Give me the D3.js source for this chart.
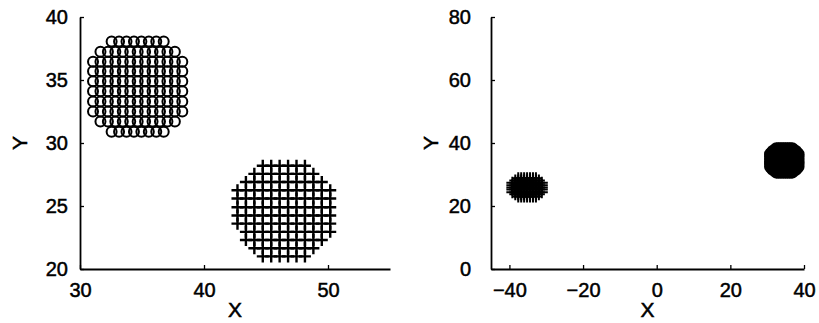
<!DOCTYPE html>
<html>
<head>
<meta charset="utf-8">
<script src="https://cdn.jsdelivr.net/npm/d3@7"></script>
<style>
  body { margin: 0; background: #fff; }
  text { font-family: "Liberation Sans", Arial, Helvetica, sans-serif; fill: #000; }
</style>
</head>
<body>
<script>
// circle cluster (same points in both panels): [y, [x...]]
const circleRows = [
  [38.05, [32.55, 33.15, 33.75, 34.35, 34.95, 35.55, 36.15, 36.75]],
  [37.25, [31.65, 32.25, 32.85, 33.45, 34.05, 34.65, 35.25, 35.85, 36.45, 37.05, 37.65]],
  [36.45, [31.05, 31.65, 32.25, 32.85, 33.45, 34.05, 34.65, 35.25, 35.85, 36.45, 37.05, 37.65, 38.25]],
  [35.7,  [31.05, 31.65, 32.25, 32.85, 33.45, 34.05, 34.65, 35.25, 35.85, 36.45, 37.05, 37.65, 38.25]],
  [34.9,  [31.05, 31.65, 32.25, 32.85, 33.45, 34.05, 34.65, 35.25, 35.85, 36.45, 37.05, 37.65, 38.25]],
  [34.1,  [31.05, 31.65, 32.25, 32.85, 33.45, 34.05, 34.65, 35.25, 35.85, 36.45, 37.05, 37.65, 38.25]],
  [33.3,  [31.05, 31.65, 32.25, 32.85, 33.45, 34.05, 34.65, 35.25, 35.85, 36.45, 37.05, 37.65, 38.25]],
  [32.5,  [31.05, 31.65, 32.25, 32.85, 33.45, 34.05, 34.65, 35.25, 35.85, 36.45, 37.05, 37.65, 38.25]],
  [31.7,  [31.65, 32.25, 32.85, 33.45, 34.05, 34.65, 35.25, 35.85, 36.45, 37.05, 37.65]],
  [30.9,  [32.55, 33.15, 33.75, 34.35, 34.95, 35.55, 36.15, 36.75]]
];

// cross cluster, left panel
const crossRowsLeft = [
  [28.2,  [44.74, 45.42, 46.1, 46.78, 47.46, 48.14]],
  [27.55, [44.06, 44.74, 45.42, 46.1, 46.78, 47.46, 48.14, 48.82]],
  [26.9,  [43.38, 44.06, 44.74, 45.42, 46.1, 46.78, 47.46, 48.14, 48.82, 49.5]],
  [26.25, [42.7, 43.38, 44.06, 44.74, 45.42, 46.1, 46.78, 47.46, 48.14, 48.82, 49.5, 50.18]],
  [25.6,  [42.7, 43.38, 44.06, 44.74, 45.42, 46.1, 46.78, 47.46, 48.14, 48.82, 49.5, 50.18]],
  [24.9,  [42.7, 43.38, 44.06, 44.74, 45.42, 46.1, 46.78, 47.46, 48.14, 48.82, 49.5, 50.18]],
  [24.25, [42.7, 43.38, 44.06, 44.74, 45.42, 46.1, 46.78, 47.46, 48.14, 48.82, 49.5, 50.18]],
  [23.6,  [42.7, 43.38, 44.06, 44.74, 45.42, 46.1, 46.78, 47.46, 48.14, 48.82, 49.5, 50.18]],
  [22.95, [43.38, 44.06, 44.74, 45.42, 46.1, 46.78, 47.46, 48.14, 48.82, 49.5, 50.18]],
  [22.3,  [43.38, 44.06, 44.74, 45.42, 46.1, 46.78, 47.46, 48.14, 48.82, 49.5]],
  [21.65, [44.06, 44.74, 45.42, 46.1, 46.78, 47.46, 48.14, 48.82]],
  [21.0,  [44.74, 45.42, 46.1, 46.78, 47.46, 48.14]]
];

// cross cluster, right panel
const crossRowsRight = [
  [28.8, [-37.6, -36.8, -36.0, -35.2, -34.4, -33.6, -32.8]],
  [28.1, [-38.4, -37.6, -36.8, -36.0, -35.2, -34.4, -33.6, -32.8, -32.0]],
  [27.4, [-39.2, -38.4, -37.6, -36.8, -36.0, -35.2, -34.4, -33.6, -32.8, -32.0, -31.2]],
  [26.6, [-39.2, -38.4, -37.6, -36.8, -36.0, -35.2, -34.4, -33.6, -32.8, -32.0, -31.2]],
  [25.9, [-39.2, -38.4, -37.6, -36.8, -36.0, -35.2, -34.4, -33.6, -32.8, -32.0, -31.2]],
  [25.2, [-39.2, -38.4, -37.6, -36.8, -36.0, -35.2, -34.4, -33.6, -32.8, -32.0, -31.2]],
  [24.4, [-39.2, -38.4, -37.6, -36.8, -36.0, -35.2, -34.4, -33.6, -32.8, -32.0, -31.2]],
  [23.7, [-38.4, -37.6, -36.8, -36.0, -35.2, -34.4, -33.6, -32.8, -32.0]],
  [23.0, [-37.6, -36.8, -36.0, -35.2, -34.4, -33.6, -32.8]]
];

const leftXTicks = [30, 40, 50];
const leftYTicks = [20, 25, 30, 35, 40];
const rightXTicks = [-40, -20, 0, 20, 40];
const rightYTicks = [0, 20, 40, 60, 80];

const W = 819, H = 323;
const svg = d3.select("body").append("svg").attr("width", W).attr("height", H);

// flatten [y, [x..]] rows into points
const toPoints = rows => rows.flatMap(([y, xs]) => xs.map(x => ({ x, y })));

function drawPanel(p) {
    const g = svg.append("g");

    // crosses
    const a = p.arm;
    g.append("g").selectAll("path")
        .data(toPoints(p.crosses))
        .enter().append("path")
        .attr("d", d => `M${p.x(d.x) - a},${p.y(d.y)}h${2 * a}M${p.x(d.x)},${p.y(d.y) - a}v${2 * a}`)
        .attr("stroke", "#000")
        .attr("stroke-width", p.crossWidth)
        .attr("fill", "none");

    // circles
    g.append("g").selectAll("circle")
        .data(toPoints(circleRows))
        .enter().append("circle")
        .attr("cx", d => p.x(d.x))
        .attr("cy", d => p.y(d.y))
        .attr("r", p.r)
        .attr("fill", "none")
        .attr("stroke", "#000")
        .attr("stroke-width", p.circleWidth);

    const yBase = p.y.range()[0];
    const xBase = p.x.range()[0];

    const xAxis = g.append("g")
        .attr("transform", `translate(0,${yBase})`)
        .call(d3.axisBottom(p.x).tickValues(p.xTicks).tickSizeInner(-4).tickSizeOuter(0).tickPadding(14));
    const yAxis = g.append("g")
        .attr("transform", `translate(${xBase},0)`)
        .call(d3.axisLeft(p.y).tickValues(p.yTicks).tickSizeInner(-4).tickSizeOuter(0).tickPadding(p.yPad));

    [xAxis, yAxis].forEach(ax => {
        ax.select(".domain").attr("stroke", "#000").attr("stroke-width", 1.8);
        ax.selectAll(".tick line").attr("stroke", "#000").attr("stroke-width", 1.3);
        ax.selectAll("text").attr("font-size", 20).attr("fill", "#000")
            .attr("stroke", "#000").attr("stroke-width", 0.5)
            .attr("font-family", "'Liberation Sans', Arial, sans-serif");
    });

    // axis titles
    const [x0, x1] = p.x.range();
    const [y0, y1] = p.y.range();
    g.append("text")
        .attr("x", (x0 + x1) / 2)
        .attr("y", 317)
        .attr("text-anchor", "middle")
        .attr("font-size", 21)
        .attr("stroke", "#000").attr("stroke-width", 0.5)
        .text("X");
    g.append("text")
        .attr("transform", `translate(${x0 - 53},${(y0 + y1) / 2}) rotate(-90)`)
        .attr("text-anchor", "middle")
        .attr("font-size", 21)
        .attr("stroke", "#000").attr("stroke-width", 0.5)
        .text("Y");
}

drawPanel({
    x: d3.scaleLinear().domain([30, 55]).range([80, 390]),
    y: d3.scaleLinear().domain([20, 40]).range([269, 17]),
    xTicks: leftXTicks, yTicks: leftYTicks,
    crosses: crossRowsLeft,
    r: 5, circleWidth: 2, arm: 6, crossWidth: 2.4,
    yPad: 12
});

drawPanel({
    x: d3.scaleLinear().domain([-45, 40]).range([491, 804]),
    y: d3.scaleLinear().domain([0, 80]).range([269, 17]),
    xTicks: rightXTicks, yTicks: rightYTicks,
    crosses: crossRowsRight,
    r: 6, circleWidth: 2, arm: 6, crossWidth: 2,
    yPad: 20
});
</script>
</body>
</html>
